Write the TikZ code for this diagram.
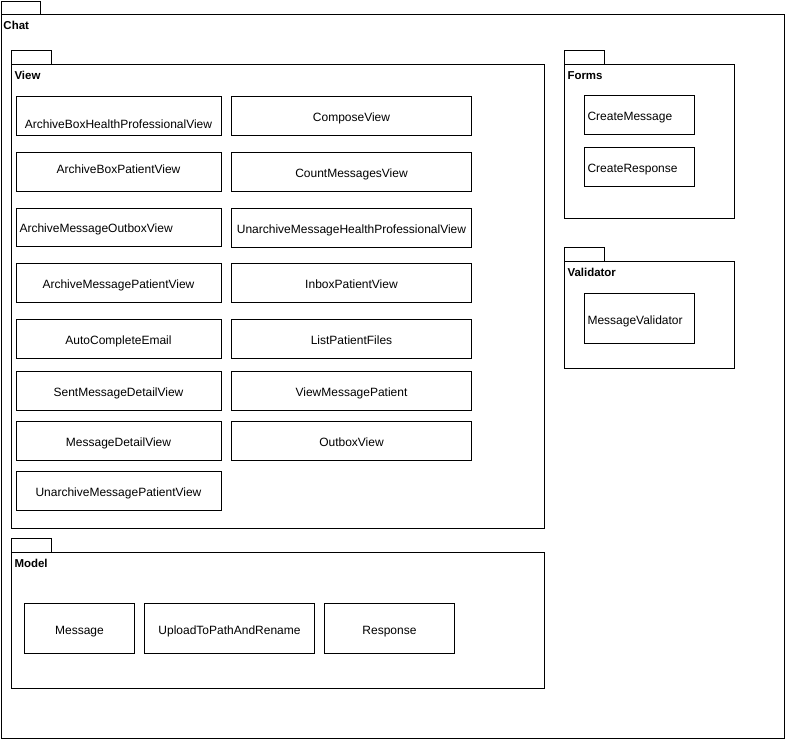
\documentclass[tikz,border=0pt]{standalone}
\usepackage{fontspec}
\setmainfont{Liberation Sans}
\usetikzlibrary{fit}
\begin{document}
\begin{tikzpicture}[x=0.75pt,y=-0.75pt,
  line width=0.75pt,
  box/.style={draw=black, inner sep=0pt, line width=0.75pt},
  txt/.style={inner sep=0pt, font=\fontsize{9pt}{10pt}\selectfont, anchor=base},
  txtl/.style={txt, anchor=base west},
  pkglabel/.style={inner sep=0pt, font=\fontsize{8.6pt}{10pt}\selectfont\bfseries, anchor=base west}]
\useasboundingbox (0,0) rectangle (785,739);
\fill[white] (0,0) rectangle (785,739);

% Chat package
\node[box, fit={(1.5,1.5)(40.5,14.5)}] (chattab) {};
\node[box, fit={(1.5,14.5)(784.5,738.5)}] (chat) {};
\node[pkglabel] (chatlbl) at (3,29) {Chat};

% View package
\node[box, fit={(11.5,50.5)(51.5,64.5)}] (viewtab) {};
\node[box, fit={(11.5,64.5)(544.5,528.5)}] (view) {};
\node[pkglabel] (viewlbl) at (14,79) {View};

% View column 1
\node[box, fit={(16.5,96.5)(221.5,135.5)}] (v1) {};
\node[txt] (v1t) at (118.5,128) {ArchiveBoxHealthProfessionalView};
\node[box, fit={(16.5,152.5)(221.5,191.5)}] (v2) {};
\node[txt] (v2t) at (118.5,173) {ArchiveBoxPatientView};
\node[box, fit={(16.5,208.5)(221.5,246.5)}] (v3) {};
\node[txtl] (v3t) at (19,232) {ArchiveMessageOutboxView};
\node[box, fit={(16.5,263.5)(221.5,302.5)}] (v4) {};
\node[txt] (v4t) at (118.5,288) {ArchiveMessagePatientView};
\node[box, fit={(16.5,319.5)(221.5,358.5)}] (v5) {};
\node[txt] (v5t) at (118.5,344) {AutoCompleteEmail};
\node[box, fit={(16.5,371.5)(221.5,410.5)}] (v6) {};
\node[txt] (v6t) at (118.5,396) {SentMessageDetailView};
\node[box, fit={(16.5,421.5)(221.5,460.5)}] (v7) {};
\node[txt] (v7t) at (118.5,446) {MessageDetailView};
\node[box, fit={(16.5,471.5)(221.5,510.5)}] (v8) {};
\node[txt] (v8t) at (118.5,496) {UnarchiveMessagePatientView};

% View column 2
\node[box, fit={(231.5,96.5)(471.5,135.5)}] (w1) {};
\node[txt] (w1t) at (351.5,121) {ComposeView};
\node[box, fit={(231.5,152.5)(471.5,191.5)}] (w2) {};
\node[txt] (w2t) at (351.5,177) {CountMessagesView};
\node[box, fit={(231.5,208.5)(471.5,247.5)}] (w3) {};
\node[txt] (w3t) at (351.5,233) {UnarchiveMessageHealthProfessionalView};
\node[box, fit={(231.5,263.5)(471.5,302.5)}] (w4) {};
\node[txt] (w4t) at (351.5,288) {InboxPatientView};
\node[box, fit={(231.5,319.5)(471.5,358.5)}] (w5) {};
\node[txt] (w5t) at (351.5,344) {ListPatientFiles};
\node[box, fit={(231.5,371.5)(471.5,410.5)}] (w6) {};
\node[txt] (w6t) at (351.5,396) {ViewMessagePatient};
\node[box, fit={(231.5,421.5)(471.5,460.5)}] (w7) {};
\node[txt] (w7t) at (351.5,446) {OutboxView};

% Forms package
\node[box, fit={(564.5,50.5)(604.5,64.5)}] (formstab) {};
\node[box, fit={(564.5,64.5)(734.5,218.5)}] (forms) {};
\node[pkglabel] (formslbl) at (567,79) {Forms};
\node[box, fit={(584.5,95.5)(694.5,134.5)}] (f1) {};
\node[txtl] (f1t) at (587,120) {CreateMessage};
\node[box, fit={(584.5,147.5)(694.5,186.5)}] (f2) {};
\node[txtl] (f2t) at (587,172) {CreateResponse};

% Validator package
\node[box, fit={(564.5,247.5)(604.5,261.5)}] (valtab) {};
\node[box, fit={(564.5,261.5)(734.5,368.5)}] (val) {};
\node[pkglabel] (vallbl) at (567,276) {Validator};
\node[box, fit={(584.5,293.5)(694.5,343.5)}] (mv) {};
\node[txtl] (mvt) at (587,324) {MessageValidator};

% Model package
\node[box, fit={(11.5,538.5)(51.5,552.5)}] (modeltab) {};
\node[box, fit={(11.5,552.5)(544.5,688.5)}] (model) {};
\node[pkglabel] (modellbl) at (14,567) {Model};
\node[box, fit={(24.5,603.5)(134.5,653.5)}] (m1) {};
\node[txt] (m1t) at (79.5,634) {Message};
\node[box, fit={(144.5,603.5)(314.5,653.5)}] (m2) {};
\node[txt] (m2t) at (229.5,634) {UploadToPathAndRename};
\node[box, fit={(324.5,603.5)(454.5,653.5)}] (m3) {};
\node[txt] (m3t) at (389.5,634) {Response};
\end{tikzpicture}
\end{document}
